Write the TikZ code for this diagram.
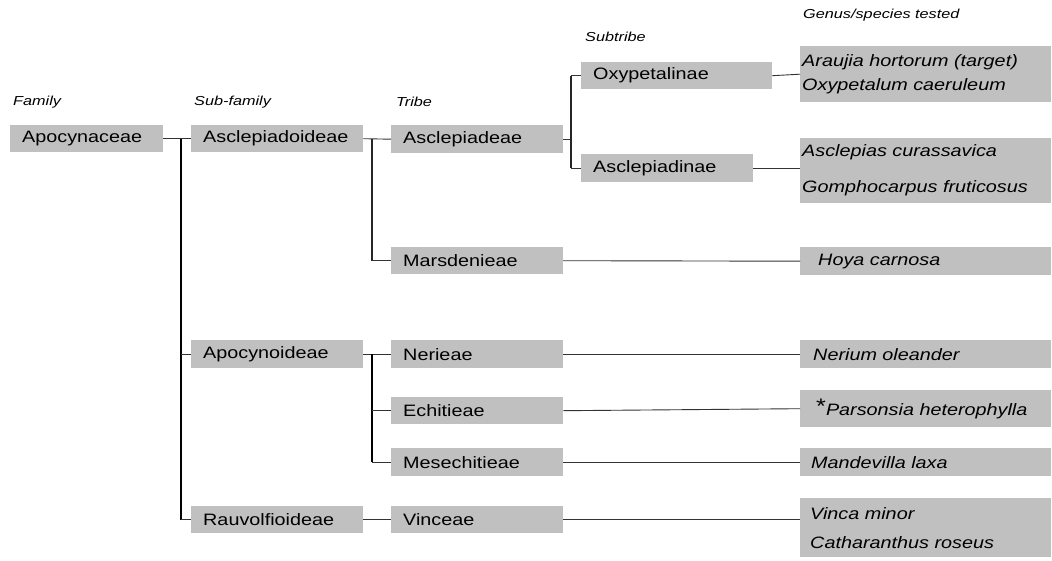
\documentclass[tikz,border=0pt]{standalone}
\usepackage{fontspec}
\setmainfont{Liberation Sans}
\newfontfamily\boxfont[FakeStretch=1.2]{Liberation Sans}
\newfontfamily\hdrfont[FakeStretch=1.25]{Liberation Sans}
\definecolor{boxgray}{RGB}{192,192,192}
\begin{document}
\begin{tikzpicture}[x=1pt,y=-1pt,
  box/.style={fill=boxgray, anchor=north west, inner ysep=0pt, inner xsep=12pt, align=left,
    font=\boxfont\fontsize{16.5}{19}\selectfont},
  gbox/.style={box, font=\boxfont\itshape\fontsize{16.5}{19}\selectfont},
  hdr/.style={anchor=west, inner sep=0pt, font=\hdrfont\itshape\fontsize{13}{15}\selectfont},
  link/.style={draw=black!80, line width=0.9pt},
  trunk/.style={draw=black, line width=1.8pt},
  midtrunk/.style={draw=black!85, line width=1.2pt}]
\useasboundingbox (0,0) rectangle (1052,561);

% headers
\node[hdr] (hfam) at (13,102) {Family};
\node[hdr] (hsub) at (194,102) {Sub-family};
\node[hdr] (htri) at (396,102) {Tribe};
\node[hdr] (hsubt) at (585,37) {Subtribe};
\node[hdr] (hgen) at (803,15) {Genus/species tested};

% family / subfamily
\node[box, text width=129pt, minimum height=27pt] (apo) at (10,125) {Apocynaceae};
\node[box, text width=148pt, minimum height=27pt] (ascd) at (191,125) {Asclepiadoideae};
\node[box, text width=148pt, minimum height=28pt] (apod) at (191,340) {Apocynoideae};
\node[box, text width=148pt, minimum height=27pt] (rauv) at (191,506) {Rauvolfioideae};

% tribes
\node[box, text width=148pt, minimum height=28pt] (ascp) at (391,125) {Asclepiadeae};
\node[box, text width=148pt, minimum height=27pt] (mars) at (391,247) {Marsdenieae};
\node[box, text width=148pt, minimum height=28pt] (neri) at (391,340) {Nerieae};
\node[box, text width=148pt, minimum height=27pt] (echi) at (391,397) {Echitieae};
\node[box, text width=148pt, minimum height=28pt] (mese) at (391,448) {Mesechitieae};
\node[box, text width=148pt, minimum height=27pt] (vinc) at (391,506) {Vinceae};

% subtribes
\node[box, text width=167pt, minimum height=27pt] (oxyp) at (581,62) {Oxypetalinae};
\node[box, text width=148pt, minimum height=28pt] (ascn) at (581,154) {Asclepiadinae};

% genus / species
\node[gbox, inner xsep=2pt, text width=247pt, minimum height=56pt] (g1) at (800,46)
  {Araujia hortorum (target)\\[5pt]Oxypetalum caeruleum};
\node[gbox, inner xsep=2pt, text width=247pt, minimum height=65pt] (g2) at (800,138)
  {Asclepias curassavica\\[17pt]Gomphocarpus fruticosus};
\node[gbox, inner xsep=18pt, text width=215pt, minimum height=28pt] (hoya) at (800,247) {Hoya carnosa};
\node[gbox, inner xsep=13pt, text width=225pt, minimum height=28pt] (ner) at (800,340) {Nerium oleander};
\node[gbox, inner xsep=16pt, text width=219pt, minimum height=37pt] (pars) at (800,390)
  {{\upshape\fontsize{21}{20}\selectfont\raisebox{2pt}{*}}Parsonsia heterophylla};
\node[gbox, inner xsep=11pt, text width=229pt, minimum height=28pt] (mand) at (800,448) {Mandevilla laxa};
\node[gbox, inner xsep=10pt, text width=231pt, minimum height=59pt] (vin) at (800,498)
  {Vinca minor\\[10pt]Catharanthus roseus};

% junction coordinates
\coordinate (j1) at (181,0);
\coordinate (j2) at (372,0);
\coordinate (j3) at (571,0);

% family -> subfamilies
\draw[link] (apo.east) -- (ascd.west);
\draw[trunk] (j1 |- apo.east) -- (j1 |- rauv.west);
\draw[link] (j1 |- apod.west) -- (apod.west);
\draw[link] (j1 |- rauv.west) -- (rauv.west);

% Asclepiadoideae -> tribes
\draw[link] (ascd.east) -- (ascp.west);
\draw[midtrunk] (j2 |- ascd.east) -- (j2 |- mars.west);
\draw[link] (j2 |- mars.west) -- (mars.west);

% Apocynoideae -> tribes
\draw[link] (apod.east) -- (neri.west);
\draw[trunk] (j2 |- apod.east) -- (j2 |- mese.west);
\draw[link] (j2 |- echi.west) -- (echi.west);
\draw[link] (j2 |- mese.west) -- (mese.west);

% Rauvolfioideae -> Vinceae
\draw[link] (rauv.east) -- (vinc.west);

% Asclepiadeae -> subtribes
\draw[link] (ascp.east) -- (j3 |- ascp.east);
\draw[midtrunk] (j3 |- oxyp.west) -- (j3 |- ascn.west);
\draw[link] (j3 |- oxyp.west) -- (oxyp.west);
\draw[link] (j3 |- ascn.west) -- (ascn.west);

% to genus/species
\draw[link] (oxyp.east) -- (g1.west);
\draw[link] (ascn.east) -- (ascn.east -| g2.west);
\draw[link] (mars.east) -- (hoya.west);
\draw[link] (neri.east) -- (ner.west);
\draw[link] (echi.east) -- (pars.west);
\draw[link] (mese.east) -- (mand.west);
\draw[link] (vinc.east) -- (vinc.east -| vin.west);
\end{tikzpicture}
\end{document}
